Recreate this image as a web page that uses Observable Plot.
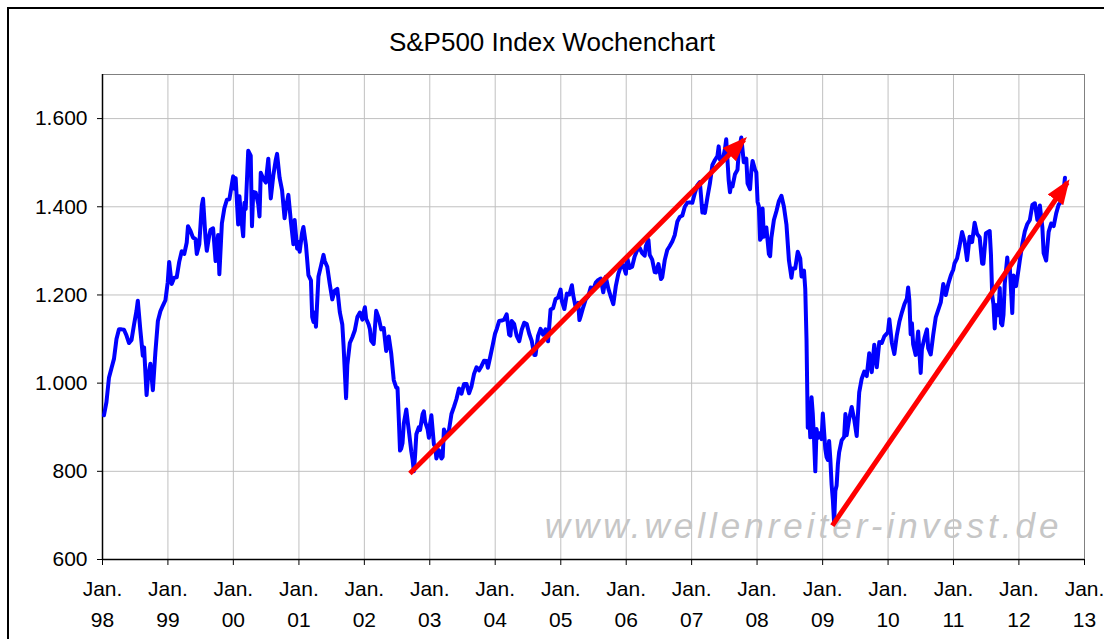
<!DOCTYPE html>
<html>
<head>
<meta charset="utf-8">
<script src="https://cdn.jsdelivr.net/npm/d3@7"></script>
<script src="https://cdn.jsdelivr.net/npm/@observablehq/plot@0.6"></script>
<style>
  html, body { margin: 0; padding: 0; background: #fff; overflow: hidden; }
  #wrap { position: relative; width: 1104px; height: 639px; font-family: "Liberation Sans", Arial, sans-serif; }
  #border { position: absolute; left: 7px; top: 7px; width: 1200px; height: 700px; border: 2px solid #000; }
  #title { position: absolute; left: 0; top: 27px; width: 1104px; text-align: center; font-size: 26px; line-height: 30px; color: #000; z-index: 2; }
  #chart { position: absolute; left: 0; top: 0; z-index: 1; }
</style>
</head>
<body>
<div id="wrap">
  <div id="border"></div>
  <div id="chart"></div>
  <div id="title">S&amp;P500 Index Wochenchart</div>
</div>
<script>
// Weekly closes of the S&P 500, [month-day, value] per year
const s1998 = [["01-09",927],["01-23",957],["02-06",1012],["02-20",1034],["03-06",1055],["03-20",1100],["04-03",1122],["04-17",1122],["05-01",1121],["05-15",1108],["05-29",1091],["06-12",1098],["06-26",1133],["07-10",1165],["07-17",1187],["07-31",1121],["08-14",1062],["08-21",1081],["09-04",973],["09-11",1009],["09-25",1044],["10-09",984],["10-23",1070],["11-06",1141],["11-20",1163],["12-04",1176],["12-18",1188],["12-31",1229]];
const s1999 = [["01-08",1275],["01-22",1225],["02-05",1239],["02-19",1240],["03-05",1275],["03-19",1299],["04-02",1293],["04-16",1319],["04-23",1356],["05-07",1345],["05-21",1330],["06-04",1327],["06-11",1293],["06-25",1315],["07-09",1403],["07-16",1418],["07-30",1328],["08-06",1300],["08-20",1336],["08-27",1348],["09-10",1351],["09-24",1277],["10-08",1336],["10-15",1247],["10-29",1362],["11-12",1397],["11-26",1416],["12-10",1417],["12-31",1469]];
const s2000 = [["01-07",1441],["01-14",1465],["01-28",1360],["02-04",1424],["02-11",1387],["02-25",1333],["03-03",1409],["03-10",1395],["03-24",1527],["04-07",1516],["04-14",1356],["04-21",1434],["05-05",1432],["05-19",1406],["05-26",1378],["06-02",1477],["06-16",1464],["06-30",1455],["07-14",1509],["07-28",1419],["08-11",1471],["08-25",1507],["09-01",1520],["09-15",1466],["09-29",1437],["10-13",1374],["10-20",1396],["11-03",1427],["11-17",1367],["11-24",1341],["12-01",1315],["12-08",1370],["12-22",1305],["12-29",1320]];
const s2001 = [["01-05",1298],["01-19",1342],["01-26",1354],["02-09",1314],["02-23",1245],["03-09",1233],["03-16",1150],["03-23",1139],["03-30",1160],["04-06",1128],["04-20",1242],["05-04",1266],["05-18",1291],["05-25",1277],["06-08",1264],["06-22",1225],["07-06",1190],["07-20",1210],["08-03",1214],["08-17",1161],["08-31",1133],["09-07",1085],["09-21",966],["09-28",1041],["10-12",1091],["10-26",1104],["11-09",1120],["11-23",1150],["12-07",1160],["12-21",1144],["12-28",1161]];
const s2002 = [["01-04",1172],["01-11",1146],["01-25",1133],["02-01",1122],["02-08",1096],["02-22",1089],["03-08",1164],["03-22",1148],["04-05",1122],["04-19",1125],["05-03",1073],["05-17",1106],["05-31",1067],["06-14",1007],["06-28",990],["07-05",989],["07-12",921],["07-19",847],["07-26",852],["08-02",864],["08-09",908],["08-23",940],["08-30",916],["09-06",893],["09-20",845],["09-27",827],["10-04",800],["10-11",835],["10-18",884],["11-01",900],["11-08",894],["11-22",930],["11-29",936],["12-06",912],["12-20",895],["12-27",876]];
const s2003 = [["01-03",909],["01-10",927],["01-24",861],["01-31",856],["02-07",829],["02-21",848],["03-07",829],["03-14",833],["03-21",895],["04-04",878],["04-18",893],["05-02",930],["05-16",946],["05-30",964],["06-13",988],["06-27",976],["07-11",998],["07-25",998],["08-08",977],["08-22",993],["09-05",1021],["09-19",1036],["10-03",1029],["10-17",1039],["10-31",1051],["11-14",1050],["11-21",1035],["12-05",1061],["12-19",1088],["12-31",1112]];
const s2004 = [["01-09",1122],["01-23",1141],["02-06",1142],["02-20",1144],["03-05",1156],["03-19",1110],["03-26",1108],["04-02",1141],["04-16",1134],["04-30",1107],["05-14",1095],["05-28",1121],["06-11",1137],["06-25",1134],["07-09",1112],["07-23",1096],["08-06",1064],["08-13",1064],["08-27",1107],["09-10",1123],["09-24",1110],["10-08",1122],["10-22",1095],["11-05",1167],["11-19",1170],["12-03",1191],["12-17",1194],["12-31",1212]];
const s2005 = [["01-07",1186],["01-21",1168],["02-04",1203],["02-18",1201],["03-04",1222],["03-11",1200],["03-25",1172],["04-08",1182],["04-15",1143],["04-22",1152],["05-06",1172],["05-20",1190],["06-03",1197],["06-17",1217],["07-01",1212],["07-15",1228],["07-29",1234],["08-12",1237],["08-26",1206],["09-09",1241],["09-23",1215],["10-07",1196],["10-21",1179],["11-04",1220],["11-18",1248],["12-02",1265],["12-16",1267],["12-30",1248]];
const s2006 = [["01-06",1285],["01-20",1261],["02-03",1264],["02-17",1287],["03-03",1302],["03-17",1307],["03-31",1295],["04-14",1289],["04-21",1311],["05-05",1325],["05-12",1291],["05-26",1280],["06-09",1252],["06-16",1251],["06-30",1270],["07-14",1236],["07-21",1240],["08-04",1279],["08-18",1302],["09-01",1311],["09-15",1321],["09-29",1336],["10-13",1366],["10-27",1377],["11-10",1380],["11-24",1400],["12-08",1409],["12-22",1410]];
const s2007 = [["01-05",1409],["01-19",1431],["02-02",1449],["02-16",1456],["03-02",1387],["03-09",1402],["03-16",1386],["03-30",1421],["04-13",1453],["04-27",1495],["05-11",1506],["05-25",1515],["06-01",1537],["06-08",1507],["06-22",1503],["07-06",1531],["07-13",1553],["07-27",1459],["08-03",1433],["08-10",1453],["08-17",1446],["08-31",1474],["09-14",1484],["09-21",1525],["10-05",1557],["10-19",1501],["11-02",1509],["11-09",1453],["11-23",1440],["11-30",1481],["12-07",1504],["12-21",1484],["12-28",1478]];
const s2008 = [["01-04",1411],["01-11",1401],["01-18",1325],["01-25",1330],["02-01",1396],["02-08",1332],["02-22",1353],["03-07",1293],["03-14",1288],["03-21",1330],["04-04",1370],["04-18",1390],["05-02",1413],["05-16",1425],["05-30",1400],["06-13",1360],["06-27",1278],["07-11",1239],["07-18",1260],["08-01",1260],["08-15",1298],["08-29",1283],["09-05",1242],["09-12",1252],["09-19",1255],["09-26",1213],["10-03",1099],["10-10",899],["10-17",940],["10-24",877],["10-31",968],["11-07",930],["11-14",873],["11-21",800],["11-28",896],["12-05",876],["12-12",879],["12-19",887],["12-26",873]];
const s2009 = [["01-02",931],["01-09",890],["01-16",850],["01-23",832],["01-30",826],["02-06",869],["02-13",827],["02-20",770],["02-27",735],["03-06",683],["03-13",756],["03-20",768],["03-27",816],["04-03",843],["04-17",870],["05-01",878],["05-08",930],["05-15",882],["05-29",919],["06-12",946],["06-26",918],["07-10",880],["07-24",979],["08-07",1010],["08-21",1026],["09-04",1016],["09-18",1068],["10-02",1025],["10-16",1087],["10-30",1036],["11-13",1093],["11-27",1091],["12-11",1106],["12-31",1115]];
const s2010 = [["01-08",1145],["01-22",1092],["02-05",1066],["02-19",1109],["03-05",1139],["03-19",1160],["04-02",1179],["04-16",1192],["04-23",1217],["04-30",1187],["05-07",1111],["05-14",1136],["05-21",1088],["06-04",1064],["06-18",1117],["07-02",1023],["07-09",1078],["07-23",1102],["08-06",1122],["08-13",1079],["08-27",1065],["09-10",1110],["09-24",1149],["10-08",1166],["10-22",1183],["11-05",1225],["11-19",1200],["12-03",1225],["12-17",1244],["12-31",1258]];
const s2011 = [["01-07",1272],["01-21",1283],["02-04",1311],["02-18",1343],["03-04",1321],["03-18",1279],["04-01",1332],["04-15",1320],["04-29",1364],["05-13",1338],["05-27",1331],["06-10",1271],["06-17",1271],["07-01",1340],["07-22",1345],["07-29",1292],["08-05",1199],["08-12",1179],["08-19",1124],["08-26",1177],["09-09",1154],["09-16",1216],["09-23",1136],["09-30",1131],["10-07",1155],["10-14",1225],["10-28",1285],["11-04",1253],["11-11",1264],["11-25",1159],["12-02",1244],["12-16",1220],["12-30",1258]];
const s2012 = [["01-06",1278],["01-20",1315],["02-03",1344],["02-17",1361],["03-02",1370],["03-16",1404],["03-30",1408],["04-13",1370],["04-27",1403],["05-11",1353],["05-18",1295],["06-01",1278],["06-15",1343],["06-29",1362],["07-13",1356],["07-27",1385],["08-10",1405],["08-24",1411],["09-07",1438],["09-14",1466]];

// Trend arrows (start date, start value, end date, end value)
const arrowStart = ["2002-09-12", "2009-02-24"];
const arrowStartValue = [795, 677];
const arrowEnd = ["2007-10-21", "2012-09-27"];
const arrowEndValue = [1552, 1455];

// Axis ticks
const yearTicks = d3.range(1998, 2014);
const valueTicks = [600, 800, 1000, 1200, 1400, 1600];
const watermark = "www.wellenreiter-invest.de";

const yearly = [[1998,s1998],[1999,s1999],[2000,s2000],[2001,s2001],[2002,s2002],[2003,s2003],[2004,s2004],[2005,s2005],[2006,s2006],[2007,s2007],[2008,s2008],[2009,s2009],[2010,s2010],[2011,s2011],[2012,s2012]];
const series = yearly.flatMap(([y, arr]) => arr.map(([md, v]) => ({date: new Date(`${y}-${md}T00:00:00Z`), value: v})));
const arrows = arrowStart.map((d, i) => ({x1: new Date(d + "T00:00:00Z"), y1: arrowStartValue[i], x2: new Date(arrowEnd[i] + "T00:00:00Z"), y2: arrowEndValue[i]}));
const xTickDates = yearTicks.map(y => new Date(Date.UTC(y, 0, 1)));

const de = d3.formatLocale({decimal: ",", thousands: ".", grouping: [3], currency: ["", "€"]});
const fmt = de.format(",d");

// filled triangular arrow head
const svgns = "http://www.w3.org/2000/svg";
function triangleHead(color) {
  const m = document.createElementNS(svgns, "marker");
  m.setAttribute("viewBox", "0 0 25 19");
  m.setAttribute("markerWidth", 25);
  m.setAttribute("markerHeight", 19);
  m.setAttribute("markerUnits", "userSpaceOnUse");
  m.setAttribute("refX", 21);
  m.setAttribute("refY", 9.5);
  m.setAttribute("orient", "auto");
  const p = document.createElementNS(svgns, "path");
  p.setAttribute("d", "M0,0L25,9.5L0,19Z");
  p.setAttribute("fill", color);
  p.setAttribute("stroke", "none");
  m.appendChild(p);
  return m;
}

function build(head) {
  return Plot.plot({
    width: 1104,
    height: 639,
    marginLeft: 102,
    marginRight: 20,
    marginTop: 74,
    marginBottom: 80,
    style: {fontFamily: "'Liberation Sans', Arial, sans-serif", fontSize: "21px", background: "transparent", overflow: "visible"},
    x: {type: "utc", domain: [xTickDates[0], xTickDates[xTickDates.length - 1]]},
    y: {domain: [600, 1700]},
    marks: [
      Plot.gridX(xTickDates, {stroke: "#c0c0c0", strokeOpacity: 1}),
      Plot.gridY(valueTicks, {stroke: "#c0c0c0", strokeOpacity: 1}),
      Plot.frame({stroke: "#808080"}),
      Plot.text([watermark], {frameAnchor: "bottom-right", dx: -22, dy: -33, lineAnchor: "middle", textAnchor: "end", fill: "#c6c6c6", fontSize: 35, fontStyle: "italic", fontFamily: "'Liberation Sans', Arial, sans-serif"}),
      Plot.ruleX([xTickDates[0]], {stroke: "#000", strokeWidth: 1.5}),
      Plot.ruleY([600], {stroke: "#000", strokeWidth: 1.5}),
      Plot.axisX(xTickDates, {tickSize: 6, tickPadding: 9, fontSize: 21, lineHeight: 1.45, tickFormat: d => "Jan.\n" + String(d.getUTCFullYear()).slice(2)}),
      Plot.axisY(valueTicks, {tickSize: 5, tickPadding: 10, fontSize: 21, tickFormat: fmt}),
      Plot.line(series, {x: "date", y: "value", stroke: "#0000ff", strokeWidth: 4, strokeLinejoin: "round"}),
      Plot.link(arrows, {x1: "x1", y1: "y1", x2: "x2", y2: "y2", stroke: "#ff0000", strokeWidth: 5, markerEnd: head})
    ]
  });
}

let chart;
try { chart = build(triangleHead); } catch (e) { chart = build("arrow"); }
// letter-spacing for the watermark text
chart.querySelectorAll("text").forEach(t => { if (t.textContent === watermark) t.style.letterSpacing = "4px"; });
document.getElementById("chart").appendChild(chart);
</script>
</body>
</html>
